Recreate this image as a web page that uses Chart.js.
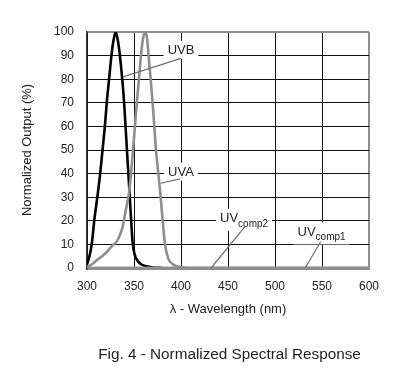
<!DOCTYPE html>
<html><head><meta charset="utf-8">
<script src="https://cdn.jsdelivr.net/npm/chart.js@4/dist/chart.umd.min.js"></script>
<style>html,body{margin:0;padding:0;background:#fff}</style>
</head><body>
<canvas id="c" width="400" height="373"></canvas>
<script>
// ---- data ----
const uvbWavelength = [300,302,305,308,311,314,316.5,319,321,323.5,326,328,330.5,333,335,337.5,339.5,341,342.5,344,345.5,347,348.5,350.5,354,358,363,370,380];
const uvbOutput     = [1.5,4,10,21,30,40,50,60,70,80,90,96,100,96,90,80,70,60,50,40,30,20,11,6,3,1.5,0.7,0.2,0];
const uvaWavelength = [300,305,311,316,321.5,327,332,335,337.6,341,344.7,347.3,349.2,351,353,355.3,357.4,359.5,361.8,364,365.5,367.7,369.8,371.6,373.4,375.9,378.4,380.5,383,386.5,390,394,400,410,600];
const uvaOutput     = [0.5,1.5,3.5,5,7,9.5,11.5,14,17,24,32,42,51,60,70,80,90,97,100,97,90,80,70,60,50,40,30,20,10,4,2,1,0.3,0,0];
const comp2Wavelength = [300,400,500,600];
const comp2Output     = [0,0,0,0];
const comp1Wavelength = [300,400,500,600];
const comp1Output     = [0,0,0,0];
const xTickValues = [300,350,400,450,500,550,600];
const yTickValues = [0,10,20,30,40,50,60,70,80,90,100];
const seriesNames = ['UVB','UVA','UVcomp2','UVcomp1'];
const calloutMain = ['UVB','UVA','UV','UV'];
const calloutSub  = ['','','comp2','comp1'];
// label anchor (data units) and leader line ends (data units)
const calloutLabelX = [400,400,441.5,524];
const calloutLabelY = [92,40.4,20.8,15.1];
const calloutFromX  = [400,399,468,548.6];
const calloutFromY  = [88.8,37.8,17.5,11.1];
const calloutToX    = [338.3,378.7,432,532];
const calloutToY    = [81,35.9,0,0];
const xTitle = 'λ - Wavelength (nm)';
const yTitle = 'Normalized Output (%)';
const caption = 'Fig. 4 - Normalized Spectral Response';

const toPts = (xs, ys) => xs.map((x, i) => ({x, y: ys[i]}));
const FONT = "'Liberation Sans', Arial, Helvetica, sans-serif";
const GRAY = '#8e8e8e';
const TEXT = '#222';

const calloutPlugin = {
  id: 'callouts',
  afterDatasetsDraw(chart) {
    const ctx = chart.ctx, xs = chart.scales.x, ys = chart.scales.y;
    ctx.save();
    for (let i = 0; i < calloutMain.length; i++) {
      const cx = xs.getPixelForValue(calloutLabelX[i]);
      const cy = ys.getPixelForValue(calloutLabelY[i]);
      ctx.font = '13px ' + FONT;
      const wMain = ctx.measureText(calloutMain[i]).width;
      ctx.font = '10px ' + FONT;
      const wSub = calloutSub[i] ? ctx.measureText(calloutSub[i]).width : 0;
      const total = wMain + wSub;
      const x0 = calloutSub[i] ? cx : cx - total / 2;
      ctx.fillStyle = '#fff';
      ctx.fillRect(x0 - 4, cy - 10, total + 8, calloutSub[i] ? 22 : 18);
      ctx.strokeStyle = '#6f6f6f';
      ctx.lineWidth = 1.2;
      ctx.beginPath();
      ctx.moveTo(xs.getPixelForValue(calloutFromX[i]), ys.getPixelForValue(calloutFromY[i]));
      ctx.lineTo(xs.getPixelForValue(calloutToX[i]), ys.getPixelForValue(calloutToY[i]));
      ctx.stroke();
      ctx.fillStyle = TEXT;
      ctx.textBaseline = 'middle';
      ctx.textAlign = 'left';
      ctx.font = '13px ' + FONT;
      ctx.fillText(calloutMain[i], x0, cy);
      if (calloutSub[i]) {
        ctx.font = '10px ' + FONT;
        ctx.fillText(calloutSub[i], x0 + wMain, cy + 5);
      }
    }
    // figure caption, centred under the plot area
    ctx.font = '15.3px ' + FONT;
    ctx.fillStyle = TEXT;
    ctx.textAlign = 'center';
    ctx.textBaseline = 'middle';
    ctx.fillText(caption, (chart.chartArea.left + chart.chartArea.right) / 2 + 1.5, chart.height - 18);
    ctx.restore();
  }
};

new Chart(document.getElementById('c'), {
  type: 'line',
  data: {
    datasets: [
      {label: seriesNames[2], data: toPts(comp2Wavelength, comp2Output), borderColor: GRAY, borderWidth: 2.5, pointRadius: 0},
      {label: seriesNames[3], data: toPts(comp1Wavelength, comp1Output), borderColor: GRAY, borderWidth: 2.5, pointRadius: 0},
      {label: seriesNames[1], data: toPts(uvaWavelength, uvaOutput), borderColor: GRAY, borderWidth: 2.6, pointRadius: 0, cubicInterpolationMode: 'monotone'},
      {label: seriesNames[0], data: toPts(uvbWavelength, uvbOutput), borderColor: '#000', borderWidth: 2.6, pointRadius: 0, cubicInterpolationMode: 'monotone'}
    ]
  },
  options: {
    responsive: false,
    animation: false,
    devicePixelRatio: 1,
    layout: {padding: {top: 32, right: 31, left: 0, bottom: 56}},
    plugins: {
      legend: {display: false},
      tooltip: {enabled: false},
      title: {display: false}
    },
    scales: {
      x: {
        type: 'linear', min: 300, max: 600,
        afterBuildTicks: s => { s.ticks = xTickValues.map(v => ({value: v})); },
        afterFit: s => { s.height = 49; },
        ticks: {color: TEXT, font: {family: FONT, size: 12}, padding: 11, maxRotation: 0},
        grid: {drawTicks: false, color: c => c.tick && c.tick.value === 600 ? GRAY : '#111',
               lineWidth: c => c.tick && c.tick.value === 600 ? 2 : 1},
        border: {display: true, color: GRAY, width: 3},
        title: {display: true, text: xTitle, color: TEXT, font: {family: FONT, size: 13}, padding: 0}
      },
      y: {
        min: 0, max: 100,
        afterBuildTicks: s => { s.ticks = yTickValues.map(v => ({value: v})); },
        afterFit: s => { s.width = 87; },
        ticks: {color: TEXT, font: {family: FONT, size: 12}, padding: 13},
        grid: {drawTicks: false, color: c => c.tick && (c.tick.value === 100 || c.tick.value === 0) ? GRAY : '#111',
               lineWidth: c => c.tick && c.tick.value === 100 ? 2 : (c.tick && c.tick.value === 0 ? 3 : 1)},
        border: {display: true, color: '#333', width: 1.5},
        title: {display: true, text: yTitle, color: TEXT, font: {family: FONT, size: 13}, padding: {top: 20, bottom: 0}}
      }
    }
  },
  plugins: [calloutPlugin]
});
</script>
</body></html>
